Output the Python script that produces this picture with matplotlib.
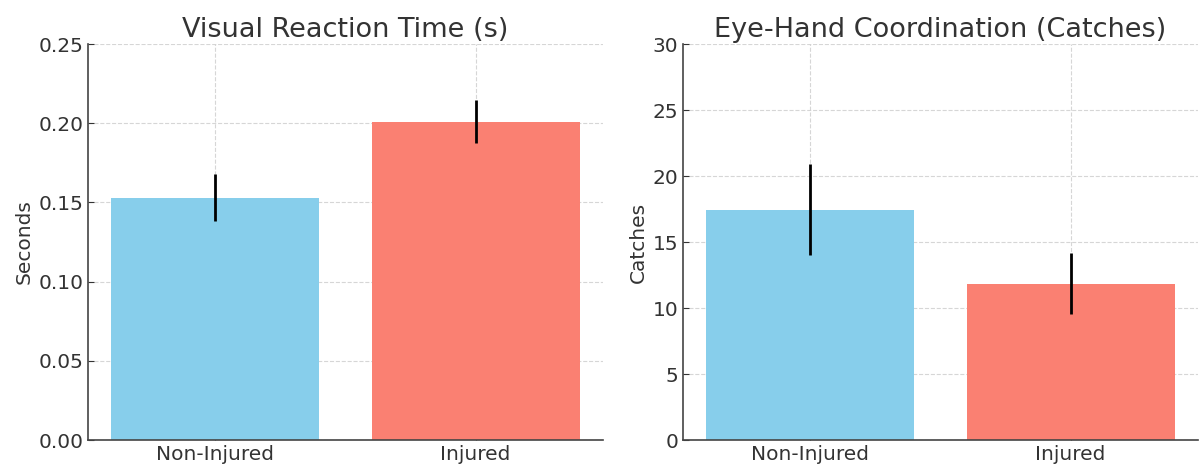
import matplotlib
matplotlib.use('Agg')
from matplotlib import pyplot as plt

# Data
groups = ['Non-Injured', 'Injured']
reaction_mean = [0.153, 0.201]
reaction_err = [0.015, 0.0135]
catches_mean = [17.45, 11.85]
catches_err = [3.45, 2.3]

colors = ['#87CEEB', '#FA8072']
text_color = '#333333'

plt.rcParams['font.family'] = 'DejaVu Sans'

fig = plt.figure(figsize=(12.04, 4.69), dpi=100)
ax1 = fig.add_axes([88 / 1204, 29 / 469, 515 / 1204, 396 / 469])
ax2 = fig.add_axes([683 / 1204, 29 / 469, 515 / 1204, 396 / 469])


def style_axes(ax, title, ylabel, ylim, yticks, fmt):
    ax.set_title(title, fontsize=19.5, color=text_color, pad=5)
    ax.set_ylabel(ylabel, fontsize=14.5, color=text_color, labelpad=3)
    ax.set_ylim(*ylim)
    ax.set_yticks(yticks)
    ax.set_yticklabels([fmt.format(t) for t in yticks])
    ax.tick_params(direction='in', labelsize=14.5, colors=text_color, length=4)
    for side in ['top', 'right']:
        ax.spines[side].set_visible(False)
    for side in ['left', 'bottom']:
        ax.spines[side].set_color('#444444')
        ax.spines[side].set_linewidth(1.2)
    ax.set_axisbelow(True)
    ax.grid(True, linestyle='--', color='#cccccc', linewidth=0.8, alpha=0.8)


ax1.bar(groups, reaction_mean, yerr=reaction_err, color=colors, width=0.8,
        error_kw=dict(ecolor='black', elinewidth=2, capsize=0))
style_axes(ax1, 'Visual Reaction Time (s)', 'Seconds', (0, 0.25),
           [0, 0.05, 0.10, 0.15, 0.20, 0.25], '{:.2f}')

ax2.bar(groups, catches_mean, yerr=catches_err, color=colors, width=0.8,
        error_kw=dict(ecolor='black', elinewidth=2, capsize=0))
style_axes(ax2, 'Eye-Hand Coordination (Catches)', 'Catches', (0, 30),
           [0, 5, 10, 15, 20, 25, 30], '{:d}')

fig.savefig('out.png', dpi=100)
